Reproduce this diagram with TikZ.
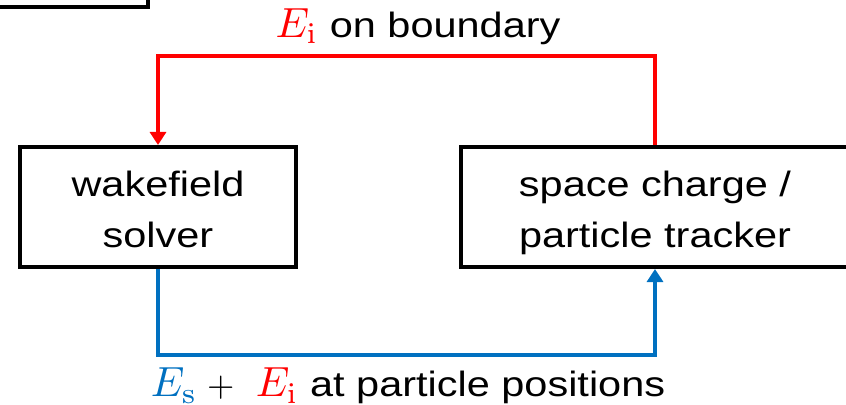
\documentclass[tikz,border=0pt]{standalone}
\definecolor{fieldRed}{RGB}{255,0,0}
\definecolor{fieldBlue}{RGB}{0,112,192}
\usepackage[no-math]{fontspec}
\setmainfont{Liberation Sans}[FakeStretch=1.18]
\usepackage{amsmath}
\usepackage{graphicx}
\usetikzlibrary{arrows.meta,positioning}
\newcommand{\fieldE}[2]{\textcolor{#1}{\scalebox{1.2}{$E_{\mathrm{#2}}$}}}
\newcommand{\twolines}[2]{\rule{0pt}{11.8pt}#1\\#2\rule[-3pt]{0pt}{3pt}}

\begin{document}
\begin{tikzpicture}[
    solverbox/.style={draw=black, line width=1.15pt, align=center, inner sep=0pt,
        minimum height=1.2cm, font=\fontsize{10}{14.5}\selectfont},
    flow/.style={line width=1.1pt, -{Triangle[width=0.16cm,length=0.13cm]}},
    flowlabel/.style={anchor=base, font=\fontsize{10}{12}\selectfont}
  ]
    \clip (0,0) rectangle (8.46,-4.05);

    % box cut off at the top left
    \node[solverbox, minimum width=2.8cm, anchor=south east] (prev) at (1.5,-0.09) {};

    \node[solverbox, minimum width=2.76cm] (wake) at (1.58,-2.07) {\twolines{wakefield}{solver}};
    \node[solverbox, minimum width=3.88cm] (track) at (6.55,-2.07) {\twolines{space charge /}{particle tracker}};

    \draw[flow, fieldRed] (track.north) -- ++(0,0.89) -| (wake.north);
    \draw[flow, fieldBlue] (wake.south) -- ++(0,-0.86) -| (track.south);

    \node[flowlabel] (bnd) at (4.18,-0.375) {\fieldE{fieldRed}{i} on boundary};
    \node[flowlabel] (pos) at (4.08,-3.97) {\fieldE{fieldBlue}{s}$\;+\;$\ \fieldE{fieldRed}{i} at particle positions};
\end{tikzpicture}
\end{document}
